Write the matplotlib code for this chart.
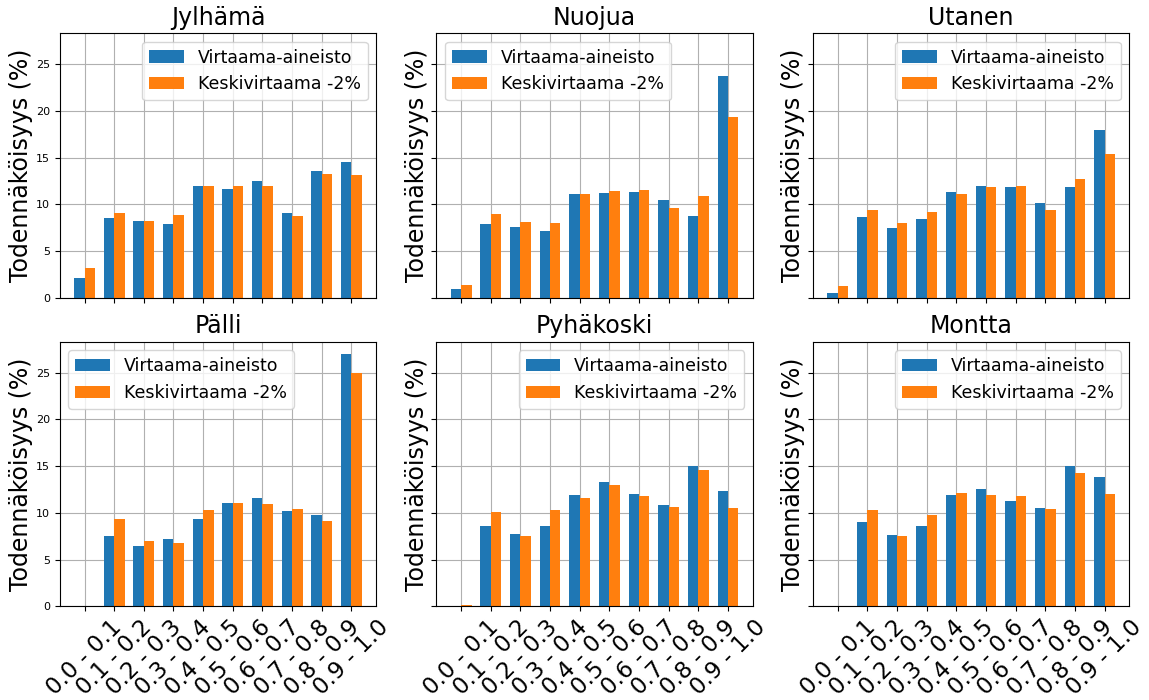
import matplotlib
matplotlib.use("Agg")
import matplotlib.pyplot as plt
import numpy as np

bins = ["0.0 - 0.1", "0.1 - 0.2", "0.2 - 0.3", "0.3 - 0.4", "0.4 - 0.5",
        "0.5 - 0.6", "0.6 - 0.7", "0.7 - 0.8", "0.8 - 0.9", "0.9 - 1.0"]
sites = ["Jylhämä", "Nuojua", "Utanen", "Pälli", "Pyhäkoski", "Montta"]

# Virtaama-aineisto
obs_jylhama = [2.1, 8.5, 8.2, 7.9, 12.0, 11.6, 12.5, 9.1, 13.6, 14.5]
obs_nuojua = [0.9, 7.9, 7.6, 7.1, 11.1, 11.2, 11.3, 10.5, 8.7, 23.7]
obs_utanen = [0.5, 8.6, 7.5, 8.4, 11.3, 11.9, 11.8, 10.1, 11.8, 18.0]
obs_palli = [0.0, 7.5, 6.4, 7.2, 9.3, 11.1, 11.6, 10.2, 9.8, 27.0]
obs_pyhakoski = [0.0, 8.6, 7.7, 8.6, 11.9, 13.3, 12.0, 10.8, 15.0, 12.3]
obs_montta = [0.0, 9.0, 7.6, 8.6, 11.9, 12.5, 11.3, 10.5, 15.0, 13.8]

# Keskivirtaama -2%
mod_jylhama = [3.2, 9.1, 8.2, 8.8, 11.9, 11.9, 11.9, 8.7, 13.2, 13.1]
mod_nuojua = [1.4, 9.0, 8.1, 8.0, 11.1, 11.4, 11.5, 9.6, 10.9, 19.3]
mod_utanen = [1.2, 9.4, 8.0, 9.2, 11.1, 11.8, 11.9, 9.4, 12.7, 15.4]
mod_palli = [0.0, 9.3, 7.0, 6.8, 10.3, 11.1, 11.0, 10.4, 9.1, 25.0]
mod_pyhakoski = [0.15, 10.1, 7.5, 10.3, 11.6, 13.0, 11.8, 10.6, 14.6, 10.5]
mod_montta = [0.0, 10.3, 7.5, 9.8, 12.1, 11.9, 11.8, 10.4, 14.3, 12.0]

obs = [obs_jylhama, obs_nuojua, obs_utanen, obs_palli, obs_pyhakoski, obs_montta]
mod = [mod_jylhama, mod_nuojua, mod_utanen, mod_palli, mod_pyhakoski, mod_montta]
legend_loc = ["upper right", "upper left", "upper right",
              "upper left", "upper right", "upper right"]

x = np.arange(len(bins))
w = 0.35

fig, axes = plt.subplots(2, 3, figsize=(11.49, 7), dpi=100, sharex=True, sharey=True)
fig.subplots_adjust(left=0.052, right=0.983, top=0.953, bottom=0.134,
                    wspace=0.19, hspace=0.166)

for i, ax in enumerate(axes.flat):
    ax.bar(x - w / 2, obs[i], w, color="#1f77b4", label="Virtaama-aineisto")
    ax.bar(x + w / 2, mod[i], w, color="#ff7f0e", label="Keskivirtaama -2%")
    ax.set_axisbelow(True)
    ax.grid(True)
    ax.set_title(sites[i], fontsize=17)
    ax.set_ylabel("Todennäköisyys (%)", fontsize=17, labelpad=2)
    ax.legend(loc=legend_loc[i], fontsize=12.5)
    ax.tick_params(axis="y", labelsize=8)

axes[1, 0].set_xticks(x)
for ax in axes[1]:
    ax.set_xticklabels(bins, rotation=45, fontsize=16.5)

fig.savefig("out.png")
